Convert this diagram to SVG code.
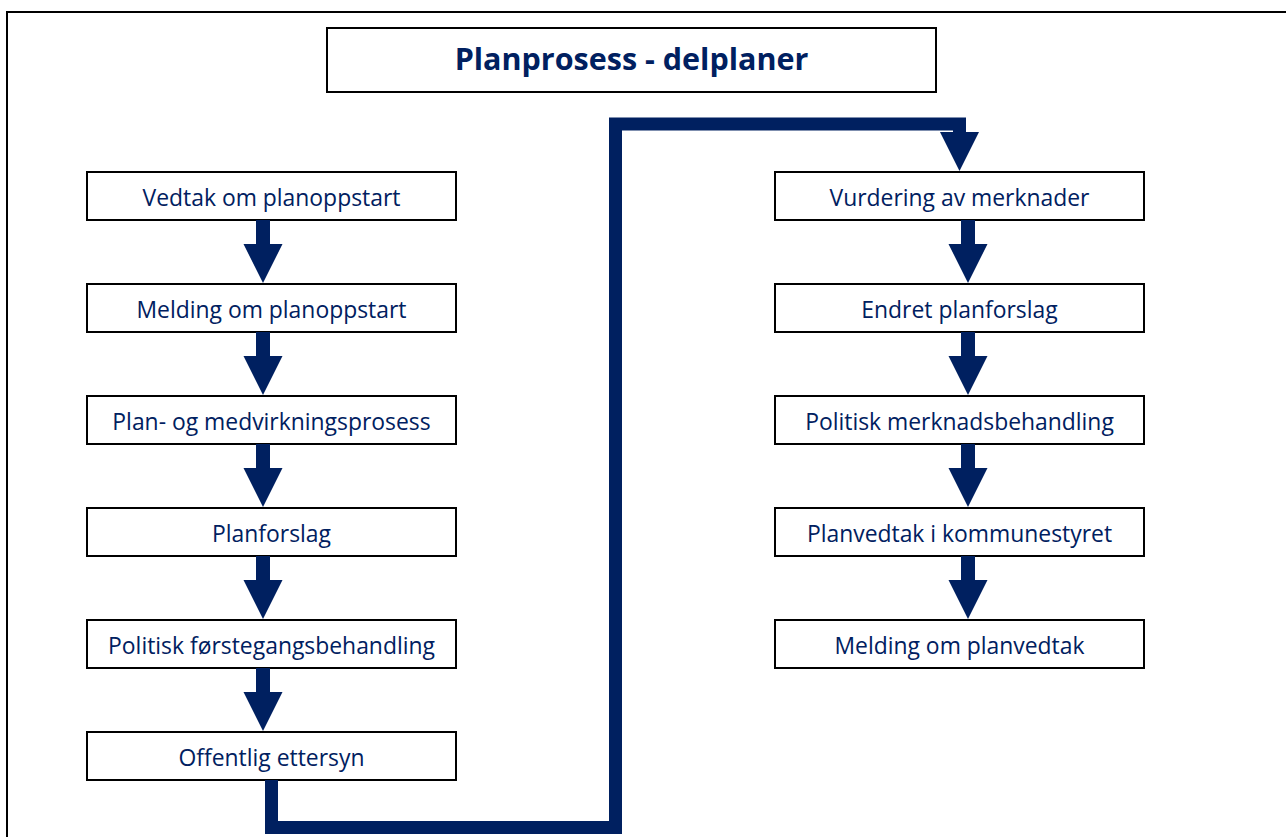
<svg xmlns="http://www.w3.org/2000/svg" width="1286" height="837" viewBox="0 0 1286 837">
  <defs>
    <style>
      .frame { fill: #ffffff; stroke: #000000; stroke-width: 2; }
      .box { fill: #ffffff; stroke: #000000; stroke-width: 2; }
      .label { font-family: "Open Sans", "Lato", sans-serif; font-size: 22.9px; fill: #002060; text-anchor: middle; }
      .title { font-family: "Open Sans", "Lato", sans-serif; font-size: 30.5px; font-weight: bold; fill: #002060; text-anchor: middle; }
      .arrow { fill: #002060; }
      .flow { fill: none; stroke: #002060; stroke-width: 13; stroke-linejoin: miter; }
    </style>
    <!-- block arrow: shaft + head, drawn with its tip at (0,0) -->
    <path id="down" class="arrow" d="M-7,-63 H7 V-39 H19.5 L0,0 L-19.5,-39 H-7 Z"/>
  </defs>

  <rect width="1286" height="837" fill="#ffffff"/>
  <rect class="frame" x="7" y="12" width="1300" height="850"/>

  <g id="title">
    <rect class="box" x="327" y="28" width="609" height="64"/>
    <text class="title" x="631.5" y="70">Planprosess - delplaner</text>
  </g>

  <!-- left column -->
  <g id="vedtak-oppstart">
    <rect class="box" x="87" y="172" width="369" height="48"/>
    <text class="label" x="271.5" y="205.5">Vedtak om planoppstart</text>
  </g>
  <g id="melding-oppstart">
    <rect class="box" x="87" y="284" width="369" height="48"/>
    <text class="label" x="271.5" y="317.5">Melding om planoppstart</text>
  </g>
  <g id="medvirkning">
    <rect class="box" x="87" y="396" width="369" height="48"/>
    <text class="label" x="271.5" y="429.5">Plan- og medvirkningsprosess</text>
  </g>
  <g id="planforslag">
    <rect class="box" x="87" y="508" width="369" height="48"/>
    <text class="label" x="271.5" y="541.5">Planforslag</text>
  </g>
  <g id="forstegang">
    <rect class="box" x="87" y="620" width="369" height="48"/>
    <text class="label" x="271.5" y="653.5">Politisk førstegangsbehandling</text>
  </g>
  <g id="ettersyn">
    <rect class="box" x="87" y="732" width="369" height="48"/>
    <text class="label" x="271.5" y="765.5">Offentlig ettersyn</text>
  </g>

  <!-- right column -->
  <g id="vurdering">
    <rect class="box" x="775" y="172" width="369" height="48"/>
    <text class="label" x="959.5" y="205.5">Vurdering av merknader</text>
  </g>
  <g id="endret">
    <rect class="box" x="775" y="284" width="369" height="48"/>
    <text class="label" x="959.5" y="317.5">Endret planforslag</text>
  </g>
  <g id="merknadsbehandling">
    <rect class="box" x="775" y="396" width="369" height="48"/>
    <text class="label" x="959.5" y="429.5">Politisk merknadsbehandling</text>
  </g>
  <g id="planvedtak">
    <rect class="box" x="775" y="508" width="369" height="48"/>
    <text class="label" x="959.5" y="541.5">Planvedtak i kommunestyret</text>
  </g>
  <g id="melding-vedtak">
    <rect class="box" x="775" y="620" width="369" height="48"/>
    <text class="label" x="959.5" y="653.5">Melding om planvedtak</text>
  </g>

  <g id="connectors">
    <use href="#down" x="263" y="283"/>
    <use href="#down" x="263" y="395"/>
    <use href="#down" x="263" y="507"/>
    <use href="#down" x="263" y="619"/>
    <use href="#down" x="263" y="731"/>

    <use href="#down" x="968" y="283"/>
    <use href="#down" x="968" y="395"/>
    <use href="#down" x="968" y="507"/>
    <use href="#down" x="968" y="619"/>

    <!-- long return line from the left column to the right column -->
    <path class="flow" d="M271.5,780 V827.5 H615.5 V124 H959.5 V133"/>
    <path class="arrow" d="M940,132 H979 L959.5,171 Z"/>
  </g>
</svg>
